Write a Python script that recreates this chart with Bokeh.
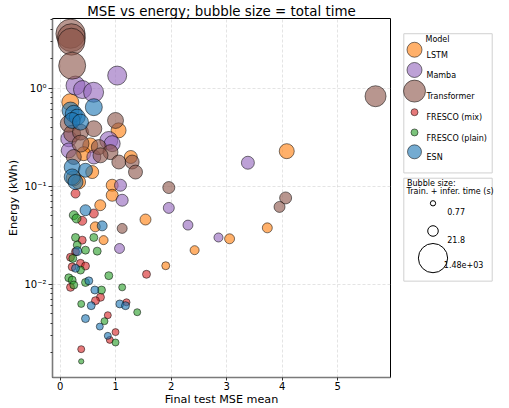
import math
from bokeh.plotting import figure
from bokeh.models import Range1d, FixedTicker, CustomJSTickFormatter, Label, ColumnDataSource
from bokeh.layouts import row
from bokeh.embed import file_html
from bokeh.resources import INLINE

FONT = "DejaVu Sans"

# ---------------- data ----------------
models = ["LSTM", "Mamba", "Transformer", "FRESCO (mix)", "FRESCO (plain)", "ESN"]

lstm_mse = [0.18, 1.05, 0.54, 0.42, 1.27, 0.33, 0.575, 0.935, 0.935, 0.72, 1.535, 0.63, 0.78, 2.42, 1.90, 3.05, 3.73, 4.08, 0.24]
lstm_energy = [0.717, 0.370, 0.260, 0.214, 0.198, 0.110, 0.139, 0.102, 0.0806, 0.0638, 0.0456, 0.0384, 0.0281, 0.0222, 0.0154, 0.0290, 0.0375, 0.227, 0.120]
lstm_time = [162, 97, 97, 72, 53, 72, 53, 38, 38, 26, 26, 17, 11, 11, 6.3, 17, 17, 97, 97]

mamba_mse = [1.025, 0.274, 0.40, 0.60, 0.874, 0.935, 0.153, 0.153, 0.604, 1.085, 1.115, 1.067, 1.955, 2.30, 2.85, 3.38]
mamba_energy = [1.34, 1.06, 0.965, 0.906, 0.292, 0.271, 0.304, 0.231, 0.198, 0.102, 0.0717, 0.0231, 0.0599, 0.0400, 0.0299, 0.173]
mamba_time = [256, 256, 205, 316, 205, 126, 126, 97, 72, 38, 38, 17, 26, 17, 11, 53]

transformer_mse = [0.184, 0.20, 0.20, 0.214, 5.68, 0.995, 0.153, 0.214, 0.364, 0.604, 0.364, 0.694, 0.904, 0.724, 0.243, 1.054, 1.295, 1.355, 1.955, 1.115, 4.06, 3.95]
transformer_energy = [3.58, 3.26, 2.97, 1.69, 0.825, 0.467, 0.432, 0.342, 0.355, 0.385, 0.271, 0.250, 0.222, 0.206, 0.198, 0.176, 0.176, 0.139, 0.0966, 0.0370, 0.0757, 0.0613]
transformer_time = [1480, 1240, 1070, 1070, 386, 126, 162, 162, 126, 126, 162, 97, 97, 97, 97, 72, 72, 72, 38, 17, 38, 26]

fresco_mix_mse = [0.274, 0.604, 0.395, 0.395, 0.274, 0.214, 0.364, 0.454, 1.553, 0.184, 0.724, 0.634, 1.193, 0.856, 0.995, 0.892, 0.377, 0.184]
fresco_mix_energy = [0.0839, 0.0525, 0.0442, 0.0281, 0.0214, 0.0150, 0.0163, 0.0153, 0.0126, 0.00927, 0.00734, 0.00678, 0.00653, 0.00482, 0.00324, 0.00270, 0.00217, 0.0188]
fresco_mix_time = [10.8, 10.8, 10.8, 6.3, 6.3, 6.3, 6.3, 6.3, 6.3, 6.3, 6.3, 6.3, 3.4, 3.4, 3.4, 3.4, 3.4, 6.3]

fresco_plain_mse = [0.243, 0.292, 0.274, 0.604, 0.305, 0.454, 0.665, 0.225, 0.364, 0.874, 0.153, 0.214, 0.243, 0.454, 0.742, 1.115, 0.377, 1.386, 0.796, 0.995, 0.377]
fresco_plain_energy = [0.0505, 0.0467, 0.0299, 0.0299, 0.0250, 0.0222, 0.0217, 0.0183, 0.0139, 0.0122, 0.0116, 0.0110, 0.0098, 0.0104, 0.00871, 0.00927, 0.00628, 0.00517, 0.00419, 0.00254, 0.00163]
fresco_plain_time = [10.8, 10.8, 6.3, 6.3, 6.3, 6.3, 6.3, 6.3, 6.3, 6.3, 6.3, 6.3, 6.3, 6.3, 6.3, 3.4, 3.4, 3.4, 3.4, 3.4, 0.77]

esn_mse = [0.604, 0.184, 0.243, 0.305, 0.214, 0.364, 0.214, 0.214, 0.274, 0.454, 0.454, 0.755, 0.305, 0.274, 0.514, 0.622, 1.072, 1.175, 0.557, 0.454, 0.712, 0.856]
esn_energy = [0.638, 0.590, 0.546, 0.505, 0.467, 0.449, 0.156, 0.124, 0.110, 0.145, 0.0567, 0.0393, 0.0217, 0.0145, 0.0108, 0.00871, 0.00628, 0.00603, 0.00603, 0.00445, 0.00369, 0.00297]
esn_time = [162, 162, 162, 126, 126, 126, 126, 126, 97, 72, 26, 17, 10.8, 6.3, 6.3, 6.3, 6.3, 6.3, 6.3, 6.3, 3.4, 3.4]

size_legend_times = [0.77, 21.8, 1480]
size_legend_labels = ["0.77", "21.8", "1.48e+03"]

x_ticks = [0, 1, 2, 3, 4, 5]
y_ticks = [0.01, 0.1, 1.0]

# ---------------- styles ----------------
colors = ["#ff7f0e", "#9467bd", "#8c564b", "#d62728", "#2ca02c", "#1f77b4"]
legend_marker_px = [15, 15, 22, 7, 7, 14]


def bubble_px(t):
    # bubble diameter (screen px) for a total time in seconds
    return math.sqrt(8.7 + 22.0 * math.sqrt(t))


series = [
    (lstm_mse, lstm_energy, lstm_time),
    (mamba_mse, mamba_energy, mamba_time),
    (transformer_mse, transformer_energy, transformer_time),
    (fresco_mix_mse, fresco_mix_energy, fresco_mix_time),
    (fresco_plain_mse, fresco_plain_energy, fresco_plain_time),
    (esn_mse, esn_energy, esn_time),
]

# ---------------- main plot ----------------
W, H = 395, 408
p = figure(width=W, height=H, x_range=Range1d(-0.1405, 5.9495), y_range=Range1d(0.001116, 5.12),
           y_axis_type="log", output_backend="svg", toolbar_location=None,
           min_border_left=52, min_border_right=5, min_border_top=18, min_border_bottom=30,
           title="MSE vs energy; bubble size = total time",
           x_axis_label="Final test MSE mean", y_axis_label="Energy (kWh)")

p.title.text_font = FONT
p.title.text_font_size = "13.4px"
p.title.text_font_style = "normal"
p.title.text_color = "black"
p.title.align = "center"
p.title.standoff = 0
p.title.offset = 0

p.outline_line_color = "black"
p.outline_line_width = 1
p.background_fill_color = "white"

for (mx, ey, tt), col in zip(series, colors):
    src = ColumnDataSource(dict(x=mx, y=ey, s=[bubble_px(t) for t in tt]))
    p.scatter("x", "y", size="s", source=src, fill_color=col, fill_alpha=0.62,
              line_color="black", line_alpha=0.65, line_width=0.8)

p.xaxis.ticker = FixedTicker(ticks=x_ticks)
minor = [k * 10.0 ** e for e in range(-3, 1) for k in range(2, 10)]
p.yaxis.ticker = FixedTicker(ticks=y_ticks, minor_ticks=minor)
p.yaxis.formatter = CustomJSTickFormatter(code="""
const e = Math.round(Math.log10(tick));
const sup = {"-":"\\u207b","0":"\\u2070","1":"\\u00b9","2":"\\u00b2","3":"\\u00b3"};
return "10" + String(e).split("").map(c => sup[c]).join("");
""")

for ax in (p.xaxis[0], p.yaxis[0]):
    ax.axis_line_color = "#7a7a7a"
    ax.axis_line_width = 1.6
    ax.major_tick_out = 4
    ax.major_tick_in = 0
    ax.minor_tick_out = 2
    ax.minor_tick_in = 0
    ax.major_tick_line_color = "#333333"
    ax.minor_tick_line_color = "#333333"
    ax.major_label_text_font = FONT
    ax.major_label_text_font_size = "10px"
    ax.major_label_text_color = "black"
    ax.major_label_standoff = 2
    ax.axis_label_text_font = FONT
    ax.axis_label_text_font_size = "11.2px"
    ax.axis_label_text_font_style = "normal"
    ax.axis_label_text_color = "black"
p.xaxis.minor_tick_line_color = None
p.xaxis.major_tick_out = 3
p.xaxis.major_label_standoff = 1
p.xaxis.axis_label_standoff = 0
p.yaxis.axis_label_standoff = 1

p.grid.grid_line_color = "#cfcfcf"
p.grid.grid_line_alpha = 0.7
p.grid.grid_line_dash = "3 2"
p.grid.grid_line_width = 0.8

# ---------------- legend panel ----------------
LW = 114
lg = figure(width=LW, height=H, x_range=Range1d(0, LW), y_range=Range1d(H, 0),
            output_backend="svg", toolbar_location=None, min_border=0,
            x_axis_location=None, y_axis_location=None)
lg.outline_line_color = None
lg.grid.visible = False

box_l, box_r = 8.3, 96.7
lg.quad(left=[box_l, box_l], right=[box_r, box_r], top=[17.3, 181.5], bottom=[175.5, 298.5],
        fill_color="white", line_color="#d0d0d0", line_width=1)

lg.add_layout(Label(x=42, y=24, text="Model", text_align="center", text_baseline="middle",
                    text_font=FONT, text_font_size="8px", text_color="black"))

label_y = [42, 65, 89, 113, 136, 158]
for i, (name, col) in enumerate(zip(models, colors)):
    lg.scatter([19], [label_y[i] - 6.5], size=legend_marker_px[i], fill_color=col, fill_alpha=0.62,
               line_color="black", line_alpha=0.65, line_width=0.8)
    lg.add_layout(Label(x=31, y=label_y[i], text=name, text_align="left", text_baseline="middle",
                        text_font=FONT, text_font_size="8px", text_color="black"))

lg.add_layout(Label(x=11.5, y=187.3, text="Bubble size:", text_align="left", text_baseline="middle",
                    text_font=FONT, text_font_size="8px", text_color="black"))
lg.add_layout(Label(x=11, y=196.7, text="Train. + infer. time (s)", text_align="left",
                    text_baseline="middle", text_font=FONT, text_font_size="8px", text_color="black"))

size_y = [210, 241.5, 272.3]
size_label_x = [51.7, 51.7, 48.3]
size_label_y = [219.3, 251, 280]
lg.scatter([37.5] * 3, size_y, size=[bubble_px(t) for t in size_legend_times],
           fill_color=None, line_color="black", line_width=1)
for i, txt in enumerate(size_legend_labels):
    lg.add_layout(Label(x=size_label_x[i], y=size_label_y[i], text=txt, text_align="left",
                        text_baseline="middle", text_font=FONT, text_font_size="8px",
                        text_color="black"))

layout = row(p, lg)
open("out.html", "w", encoding="utf-8").write(file_html(layout, INLINE))
